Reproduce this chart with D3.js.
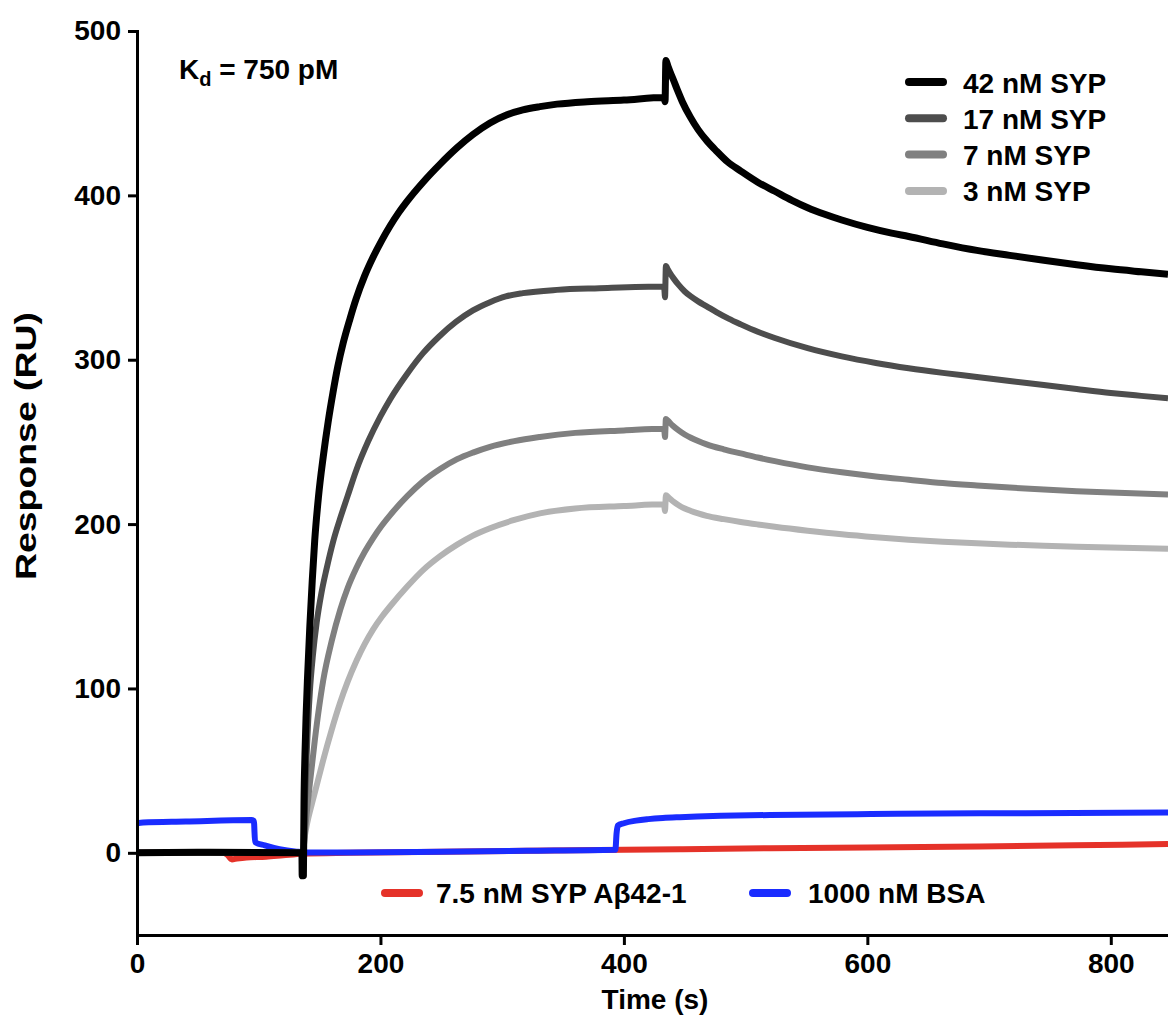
<!DOCTYPE html>
<html>
<head>
<meta charset="utf-8">
<script src="https://cdn.jsdelivr.net/npm/d3@7"></script>
<style>
  body { margin: 0; background: #fff; }
  text { font-family: "Liberation Sans", Arial, Helvetica, sans-serif; font-weight: bold; fill: #000; }
</style>
</head>
<body>
<svg id="my_dataviz" width="1168" height="1021"></svg>
<script>
// axis extents and ticks
const timeExtent = [0, 847];
const responseExtent = [-50, 500];
const timeTicks = [0, 200, 400, 600, 800];
const responseTicks = [0, 100, 200, 300, 400, 500];

// [time (s), response (RU)]
const syp42 = [[0,0],[60,0.3],[135.5,0],[135.7,-14],[136.7,-14],[137.2,30],[138,60],[139,85],[140,105],[142,138],[144,166],[146,190],[149,216],[153,241],[157,262],[161,280],[165,296],[169.5,310.5],[175,325],[180,337],[187,351],[194,362.5],[201,372.5],[208,381.5],[215,389.5],[222,396.5],[235,408],[249,419],[263,429],[276,437],[290,444],[304,449],[317,452],[331,454],[345,455.5],[370,457],[400,458],[433,459.5],[433.8,457],[434.5,482],[436,479],[438,475],[440.8,470],[444,464],[448,457],[454.6,447.6],[461,440],[468.4,433],[476,427],[485,420.5],[496,414.8],[510,408],[524,402.5],[538,397],[551,392.5],[565,388.5],[579,385],[600,380.5],[620,377],[634,375],[662,370.5],[690,366.5],[717,363.5],[745,360.5],[772,357.8],[800,355.3],[825,353.5],[847,352]];
const syp17 = [[0,0],[136.5,0],[137.5,22],[139.4,60],[142,98],[144.5,120],[147.6,140],[151.5,158],[155.8,173],[161,189],[166.7,203],[173,217],[180,232.5],[190,250.5],[200,265.5],[208,276],[222,291.5],[235,304],[248,314],[262,323],[276,330],[290,335],[303,338.5],[317,340.5],[345,342.5],[380,343.5],[433,344.5],[433.8,338],[434.5,357],[436,355],[438,352.5],[440.8,349.5],[445,345.5],[450,341.5],[455,338.5],[461,335.5],[468,332.5],[476,329],[486,325],[496,321.5],[510,317],[524,313.2],[551,307],[579,302],[607,298],[634,294.8],[662,292],[690,289.5],[717,287],[745,284.6],[772,282.2],[800,279.8],[825,278],[847,276.5]];
const syp7 = [[0,0],[136.5,0],[137.5,8],[139,21],[142,42],[146,68],[149.5,88],[153,105],[160,129],[167,148],[173,161],[180,173],[187,183],[194,191.5],[201,199],[208,205.5],[222,217],[235,226],[249,233.5],[263,239.5],[276,243.5],[290,247],[310,250.5],[331,253],[360,255.5],[400,257],[433,258],[433.8,253],[434.5,264],[436,263],[440,260],[445,257],[450,254.5],[455,252.5],[461,250.5],[468,248.5],[482,245.5],[496,243],[510,240.5],[524,238.3],[551,234.5],[579,231.5],[607,229],[634,227],[662,225],[690,223.5],[717,222.2],[745,221],[772,220],[800,219.2],[847,218]];
const syp3 = [[0,0],[136.5,0],[137.5,8],[139,15],[141,22],[144.8,33],[149,45],[153,56.5],[160,75],[166.7,91],[173,104],[180.4,117],[187,127],[194,136],[201,143.5],[208,150],[222,162],[235,172],[249,180.5],[263,187.5],[276,193],[290,197.5],[310,202.5],[331,206.5],[360,209.5],[400,211],[433,212],[433.8,208],[434.5,217.5],[437,216],[441,213.5],[445,211.5],[450,209.5],[455,208],[461,206.5],[468,205],[482,203],[496,201.3],[510,199.8],[524,198.4],[551,196],[579,193.8],[607,192],[634,190.5],[662,189.3],[690,188.3],[717,187.5],[745,186.8],[772,186.2],[800,185.7],[847,185]];
const sypAb = [[0,0],[70,0],[74,-1],[78,-4],[82,-3.5],[90,-2.8],[106,-2.4],[120,-1.5],[136,-0.5],[175,0],[250,0.6],[320,1.2],[400,1.8],[446,2.2],[520,2.8],[600,3.3],[692,3.9],[770,4.6],[847,5.3]];
const bsa = [[0,17.9],[5,18.4],[40,19],[94,19.9],[96,19.5],[97,6.5],[105,4.5],[117,2.2],[131,0.7],[140,0.2],[175,0.2],[250,0.7],[320,1.2],[393,1.8],[394,12],[395,16.5],[400,18],[410,19.6],[420,20.5],[432,21.2],[446,21.7],[460,22.1],[480,22.5],[520,23],[603,23.6],[692,24],[770,24.3],[847,24.6]];

const topLegend = ["42 nM SYP", "17 nM SYP", "7 nM SYP", "3 nM SYP"];
const bottomLegend = ["7.5 nM SYP A\u03b242-1", "1000 nM BSA"];

const svg = d3.select("#my_dataviz");
const margin = {top: 31, right: 0, bottom: 86, left: 137};
const width = +svg.attr("width");
const height = +svg.attr("height");
const innerWidth = width - margin.left - margin.right;
const innerHeight = height - margin.top - margin.bottom;

render();

function render() {
    const chart = svg.append("g")
        .attr("transform", "translate(" + margin.left + "," + margin.top + ")");

    const x = d3.scaleLinear().domain(timeExtent).range([0, innerWidth]);
    const y = d3.scaleLinear().domain(responseExtent).range([innerHeight, 0]);

    chart.append("clipPath").attr("id", "clip")
        .append("rect").attr("x", 0).attr("y", -20).attr("width", innerWidth).attr("height", innerHeight + 20);

    const line = d3.line()
        .x(d => x(d[0]))
        .y(d => y(d[1]))
        .curve(d3.curveMonotoneX);

    // drawn back to front
    const series = [
        {data: sypAb, color: "#e53229", w: 6},
        {data: bsa, color: "#1a2cff", w: 6},
        {data: syp3, color: "#b3b3b3", w: 6},
        {data: syp7, color: "#808080", w: 6},
        {data: syp17, color: "#4d4d4d", w: 6},
        {data: syp42, color: "#000000", w: 7}
    ];

    chart.append("g").attr("clip-path", "url(#clip)")
        .selectAll("path")
        .data(series)
        .enter()
        .append("path")
        .attr("d", d => line(d.data))
        .attr("fill", "none")
        .attr("stroke", d => d.color)
        .attr("stroke-width", d => d.w)
        .attr("stroke-linejoin", "round");

    appendXAxis(chart, x);
    appendYAxis(chart, y);

    // axis titles
    svg.append("text")
        .attr("x", 655).attr("y", 1009)
        .attr("text-anchor", "middle")
        .style("font-size", "28px")
        .text("Time (s)");

    svg.append("text")
        .attr("transform", "translate(36,446) rotate(-90)")
        .attr("text-anchor", "middle")
        .attr("textLength", 268)
        .attr("lengthAdjust", "spacingAndGlyphs")
        .style("font-size", "29px")
        .text("Response (RU)");

    // Kd annotation
    const kd = svg.append("text")
        .attr("x", 179).attr("y", 79)
        .style("font-size", "28px");
    kd.append("tspan").text("K");
    kd.append("tspan").attr("dy", 7).style("font-size", "20px").text("d");
    kd.append("tspan").attr("dy", -7).text(" = 750 pM");

    // legend, top right
    const topColors = ["#000000", "#4d4d4d", "#808080", "#b3b3b3"];
    const lg = svg.append("g");
    topLegend.forEach((label, i) => {
        const cy = 82 + i * 36.3;
        lg.append("line")
            .attr("x1", 909).attr("x2", 943).attr("y1", cy).attr("y2", cy)
            .attr("stroke", topColors[i]).attr("stroke-width", 8).attr("stroke-linecap", "round");
        lg.append("text")
            .attr("x", 963).attr("y", cy + 10.5)
            .style("font-size", "28px")
            .text(label);
    });

    // legend, bottom
    const bottomColors = ["#e53229", "#1a2cff"];
    const lineX = [385, 753];
    const textX = [436, 808];
    bottomLegend.forEach((label, i) => {
        svg.append("line")
            .attr("x1", lineX[i]).attr("x2", lineX[i] + 34).attr("y1", 893).attr("y2", 893)
            .attr("stroke", bottomColors[i]).attr("stroke-width", 8).attr("stroke-linecap", "round");
        svg.append("text")
            .attr("x", textX[i]).attr("y", 903)
            .style("font-size", "28px")
            .text(label);
    });
}

function appendXAxis(chart, x) {
    const g = chart.append("g")
        .attr("transform", "translate(0," + innerHeight + ")")
        .call(d3.axisBottom(x).tickValues(timeTicks).tickSize(10).tickSizeOuter(0).tickPadding(8));
    styleAxis(g);
}

function appendYAxis(chart, y) {
    const g = chart.append("g")
        .call(d3.axisLeft(y).tickValues(responseTicks).tickSize(9).tickSizeOuter(0).tickPadding(7));
    styleAxis(g);
}

function styleAxis(g) {
    g.select(".domain").attr("stroke", "#000").attr("stroke-width", 3).attr("stroke-linecap", "square");
    g.selectAll(".tick line").attr("stroke", "#000").attr("stroke-width", 3);
    g.selectAll(".tick text")
        .style("font-family", "'Liberation Sans', Arial, sans-serif")
        .style("font-weight", "bold")
        .style("font-size", "28px")
        .attr("fill", "#000");
}
</script>
</body>
</html>
